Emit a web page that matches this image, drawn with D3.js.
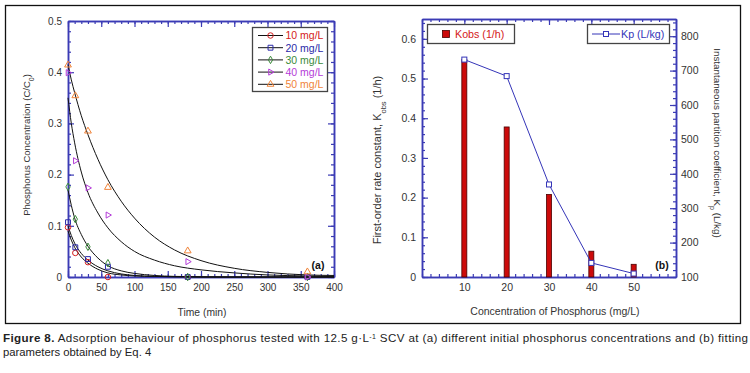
<!DOCTYPE html>
<html>
<head>
<meta charset="utf-8">
<script src="https://cdn.jsdelivr.net/npm/d3@7"></script>
<style>
	body { margin: 0; background: #fff; }
</style>
</head>
<body>
<div id="chart"></div>
<script>
// panel (a): measured points
const times = [0, 11, 30, 60, 180, 360];
const c10 = [0.097, 0.047, 0.029, 0.0, 0.0, 0.0];
const c20 = [0.107, 0.058, 0.035, 0.020, 0.0, 0.0];
const c30 = [0.176, 0.113, 0.059, 0.027, 0.0, 0.0];
const c40 = [0.399, 0.227, 0.174, 0.121, 0.030, 0.0];
const c50 = [0.414, 0.354, 0.285, 0.175, 0.051, 0.010];

// panel (a): fitted curves
const fitT = [0, 5, 10, 20, 30, 45, 60, 80, 100, 130, 160, 200, 250, 300, 360, 400];
const fit10 = [0.090, 0.072, 0.058, 0.039, 0.027, 0.015, 0.008, 0.004, 0.002, 0.001, 0.0005, 0, 0, 0, 0, 0];
const fit20 = [0.100, 0.081, 0.066, 0.046, 0.033, 0.020, 0.012, 0.006, 0.003, 0.0012, 0.0005, 0, 0, 0, 0, 0];
const fit30 = [0.170, 0.140, 0.115, 0.083, 0.060, 0.037, 0.022, 0.012, 0.007, 0.003, 0.0012, 0.0005, 0, 0, 0, 0];
const fit40 = [0.350, 0.300, 0.262, 0.205, 0.165, 0.125, 0.096, 0.069, 0.050, 0.033, 0.022, 0.014, 0.008, 0.004, 0.002, 0.001];
const fit50 = [0.415, 0.385, 0.360, 0.315, 0.278, 0.230, 0.190, 0.148, 0.115, 0.078, 0.053, 0.032, 0.017, 0.009, 0.004, 0.003];

const seriesNames = ["10 mg/L", "20 mg/L", "30 mg/L", "40 mg/L", "50 mg/L"];

// panel (b)
const conc = [10, 20, 30, 40, 50];
const kobs = [0.548, 0.378, 0.208, 0.065, 0.032];
const kp = [732, 684, 369, 141, 110];

const width = 750;
const height = 373;
const axisColor = "#3b3bb5";
const textColor = "#333";
const font = "'Liberation Sans', Arial, sans-serif";

const svg = d3.select("#chart").append("svg")
	.attr("width", width)
	.attr("height", height)
	.attr("viewBox", `0 0 ${width} ${height}`);

svg.append("rect")
	.attr("x", 5.5).attr("y", 5.5)
	.attr("width", 735).attr("height", 318)
	.attr("fill", "#fff").attr("stroke", "#111").attr("stroke-width", 1.3);

// scales
const xA = d3.scaleLinear().domain([0, 400]).range([68, 334]);
const yA = d3.scaleLinear().domain([0, 0.5]).range([277, 21]);
const xB = d3.scaleLinear().domain([0, 60]).range([422, 676]);
const yBL = d3.scaleLinear().domain([0, 0.65]).range([277, 19]);
const yBR = d3.scaleLinear().domain([100, 850]).range([277, 19]);

const fmt1 = (d) => (d === 0 ? "0" : d3.format(".1f")(d));

const styleAxis = (g, showLabels, size = "10px") => {
	g.select(".domain").attr("stroke", axisColor).attr("stroke-width", 1.5);
	g.selectAll(".tick line").attr("stroke", axisColor).attr("stroke-width", 1.2);
	g.selectAll(".tick text")
		.attr("fill", textColor)
		.style("font-size", size)
		.style("display", showLabels ? null : "none");
};

// draws the four sides with inward ticks
const drawFrame = (x, y, xMajor, xMinor, yMajor, yMinor, yFmt, right, size) => {
	const [x0, x1] = x.range();
	const [y0, y1] = y.range();

	const bottom = svg.append("g").attr("transform", `translate(0,${y0})`);
	bottom.call(d3.axisBottom(x).tickValues(xMinor).tickSize(-3).tickSizeOuter(0).tickFormat(""));
	styleAxis(bottom, false);
	const bottomMaj = svg.append("g").attr("transform", `translate(0,${y0})`);
	bottomMaj.call(d3.axisBottom(x).tickValues(xMajor).tickSize(-6).tickSizeOuter(0).tickPadding(7).tickFormat(d3.format("d")));
	styleAxis(bottomMaj, true, size);

	const top = svg.append("g").attr("transform", `translate(0,${y1})`);
	top.call(d3.axisTop(x).tickValues(xMinor).tickSize(-3).tickSizeOuter(0));
	styleAxis(top, false);
	const topMaj = svg.append("g").attr("transform", `translate(0,${y1})`);
	topMaj.call(d3.axisTop(x).tickValues(xMajor).tickSize(-6).tickSizeOuter(0));
	styleAxis(topMaj, false);

	const left = svg.append("g").attr("transform", `translate(${x0},0)`);
	left.call(d3.axisLeft(y).tickValues(yMinor).tickSize(-3).tickSizeOuter(0));
	styleAxis(left, false);
	const leftMaj = svg.append("g").attr("transform", `translate(${x0},0)`);
	leftMaj.call(d3.axisLeft(y).tickValues(yMajor).tickSize(-6).tickSizeOuter(0).tickPadding(6).tickFormat(yFmt));
	styleAxis(leftMaj, true, size);

	if (!right) {
		const r = svg.append("g").attr("transform", `translate(${x1},0)`);
		r.call(d3.axisRight(y).tickValues(yMinor).tickSize(-3).tickSizeOuter(0));
		styleAxis(r, false);
		const rMaj = svg.append("g").attr("transform", `translate(${x1},0)`);
		rMaj.call(d3.axisRight(y).tickValues(yMajor).tickSize(-6).tickSizeOuter(0));
		styleAxis(rMaj, false);
	}
};

// ---------- panel (a) ----------
drawFrame(
	xA, yA,
	d3.range(0, 401, 50), d3.range(0, 401, 10),
	d3.range(0, 0.51, 0.1).map((d) => +d.toFixed(2)), d3.range(0, 0.51, 0.02).map((d) => +d.toFixed(2)),
	fmt1, false, "10px"
);

const line = d3.line()
	.x((d) => xA(d[0]))
	.y((d) => yA(d[1]))
	.curve(d3.curveMonotoneX);

[fit10, fit20, fit30, fit40, fit50].forEach((fit) => {
	svg.append("path")
		.attr("d", line(fitT.map((t, i) => [t, fit[i]])))
		.attr("fill", "none")
		.attr("stroke", "#111")
		.attr("stroke-width", 1);
});

const seriesColors = ["#d42020", "#2a2aa8", "#3a8a3a", "#b43cd8", "#f0843a"];
const seriesSymbols = [
	{ type: d3.symbolCircle, size: 24, rot: 0 },
	{ type: d3.symbolSquare, size: 24, rot: 0 },
	{ type: d3.symbolDiamond, size: 16, rot: 0 },
	{ type: d3.symbolTriangle, size: 16, rot: 90 },
	{ type: d3.symbolTriangle, size: 20, rot: 0 },
];

const drawMarker = (g, i, x, y) => {
	const s = seriesSymbols[i];
	g.append("path")
		.attr("d", d3.symbol().type(s.type).size(s.size)())
		.attr("transform", `translate(${x},${y}) rotate(${s.rot})`)
		.attr("fill", "none")
		.attr("stroke", seriesColors[i])
		.attr("stroke-width", 1);
};

const marks = svg.append("g");
[c10, c20, c30, c40, c50].forEach((vals, i) => {
	vals.forEach((v, j) => drawMarker(marks, i, xA(times[j]), yA(v)));
});

// legend (a)
const legA = svg.append("g");
legA.append("rect")
	.attr("x", 252.5).attr("y", 27.5)
	.attr("width", 75).attr("height", 64)
	.attr("fill", "#fff").attr("stroke", "#444").attr("stroke-width", 1.3);
seriesNames.forEach((name, i) => {
	const y = 35.5 + i * 12.2;
	legA.append("line")
		.attr("x1", 258).attr("x2", 283).attr("y1", y).attr("y2", y)
		.attr("stroke", "#111").attr("stroke-width", 1);
	drawMarker(legA, i, 270.5, y);
	legA.append("text")
		.attr("x", 285.5).attr("y", y + 3.8)
		.attr("fill", seriesColors[i])
		.style("font-size", "10.5px")
		.text(name);
});

svg.append("text")
	.attr("x", 318).attr("y", 269)
	.attr("text-anchor", "middle")
	.style("font-size", "10.5px").style("font-weight", "bold")
	.attr("fill", "#111")
	.text("(a)");

svg.append("text")
	.attr("x", 202).attr("y", 316)
	.attr("text-anchor", "middle")
	.attr("fill", textColor)
	.style("font-size", "10.3px")
	.text("Time (min)");

const yLabA = svg.append("text")
	.attr("transform", "translate(30,145) rotate(-90)")
	.attr("text-anchor", "middle")
	.attr("fill", textColor)
	.style("font-size", "9.5px");
yLabA.append("tspan").text("Phosphorus Concentration (C/C");
yLabA.append("tspan").attr("baseline-shift", "sub").style("font-size", "7px").text("0");
yLabA.append("tspan").text(")");

// ---------- panel (b) ----------
drawFrame(
	xB, yBL,
	conc, d3.range(0, 61, 2),
	d3.range(0, 0.61, 0.1).map((d) => +d.toFixed(2)), d3.range(0, 0.65, 0.02).map((d) => +d.toFixed(2)),
	fmt1, true, "10.5px"
);

const rightB = svg.append("g").attr("transform", `translate(${xB.range()[1]},0)`);
rightB.call(d3.axisRight(yBR).tickValues(d3.range(100, 851, 20)).tickSize(-3).tickSizeOuter(0));
styleAxis(rightB, false);
const rightBMaj = svg.append("g").attr("transform", `translate(${xB.range()[1]},0)`);
rightBMaj.call(d3.axisRight(yBR).tickValues(d3.range(100, 801, 100)).tickSize(-6).tickSizeOuter(0).tickPadding(5).tickFormat(d3.format("d")));
styleAxis(rightBMaj, true, "10.5px");

const barW = 5;
svg.append("g")
	.selectAll("rect")
	.data(conc)
	.join("rect")
	.attr("x", (d) => xB(d) - barW / 2)
	.attr("y", (d, i) => yBL(kobs[i]))
	.attr("width", barW)
	.attr("height", (d, i) => yBL(0) - yBL(kobs[i]))
	.attr("fill", "#cc0a0a")
	.attr("stroke", "#4a0000")
	.attr("stroke-width", 0.8);

const kpLine = d3.line()
	.x((d, i) => xB(conc[i]))
	.y((d) => yBR(d));

svg.append("path")
	.attr("d", kpLine(kp))
	.attr("fill", "none")
	.attr("stroke", "#3535b8")
	.attr("stroke-width", 1);

svg.append("g")
	.selectAll("rect")
	.data(kp)
	.join("rect")
	.attr("x", (d, i) => xB(conc[i]) - 2.5)
	.attr("y", (d) => yBR(d) - 2.5)
	.attr("width", 5).attr("height", 5)
	.attr("fill", "#fff")
	.attr("stroke", "#3535b8")
	.attr("stroke-width", 1);

// legends (b)
svg.append("rect")
	.attr("x", 427.5).attr("y", 24.5)
	.attr("width", 87).attr("height", 19)
	.attr("fill", "#fff").attr("stroke", "#444").attr("stroke-width", 1.3);
svg.append("rect")
	.attr("x", 442.5).attr("y", 30.5)
	.attr("width", 7).attr("height", 7)
	.attr("fill", "#cc0a0a").attr("stroke", "#4a0000").attr("stroke-width", 0.8);
svg.append("text")
	.attr("x", 455).attr("y", 38)
	.attr("fill", "#d42020")
	.style("font-size", "10.7px")
	.text("Kobs (1/h)");

svg.append("rect")
	.attr("x", 587.5).attr("y", 24.5)
	.attr("width", 82).attr("height", 19)
	.attr("fill", "#fff").attr("stroke", "#444").attr("stroke-width", 1.3);
svg.append("line")
	.attr("x1", 592).attr("x2", 620).attr("y1", 34).attr("y2", 34)
	.attr("stroke", "#3535b8").attr("stroke-width", 1);
svg.append("rect")
	.attr("x", 603.5).attr("y", 31.5)
	.attr("width", 5).attr("height", 5)
	.attr("fill", "#fff").attr("stroke", "#3535b8").attr("stroke-width", 1);
svg.append("text")
	.attr("x", 621).attr("y", 38)
	.attr("fill", "#3535b8")
	.style("font-size", "10.7px")
	.text("Kp (L/kg)");

svg.append("text")
	.attr("x", 662).attr("y", 269)
	.attr("text-anchor", "middle")
	.style("font-size", "10.5px").style("font-weight", "bold")
	.attr("fill", "#111")
	.text("(b)");

svg.append("text")
	.attr("x", 555).attr("y", 315)
	.attr("text-anchor", "middle")
	.attr("fill", textColor)
	.style("font-size", "10.5px")
	.text("Concentration of Phosphorus (mg/L)");

const yLabBL = svg.append("text")
	.attr("transform", "translate(381,160) rotate(-90)")
	.attr("text-anchor", "middle")
	.attr("fill", textColor)
	.style("font-size", "11px");
yLabBL.append("tspan").text("First-order rate constant, K");
yLabBL.append("tspan").attr("baseline-shift", "sub").style("font-size", "7.5px").text("obs");
yLabBL.append("tspan").text("   (1/h)");

const yLabBR = svg.append("text")
	.attr("transform", "translate(714,143) rotate(90)")
	.attr("text-anchor", "middle")
	.attr("fill", textColor)
	.style("font-size", "9.8px");
yLabBR.append("tspan").text("Instantaneous partition coefficient, K");
yLabBR.append("tspan").attr("baseline-shift", "sub").style("font-size", "7px").text("p");
yLabBR.append("tspan").text("  (L/kg)");

// caption
const cap1 = svg.append("text")
	.attr("x", 3).attr("y", 342)
	.attr("textLength", 745)
	.attr("lengthAdjust", "spacing")
	.attr("fill", "#222")
	.style("font-size", "11.6px");
cap1.append("tspan").style("font-weight", "bold").text("Figure 8.");
cap1.append("tspan").text(" Adsorption behaviour of phosphorus tested with 12.5 g·L");
cap1.append("tspan").attr("baseline-shift", "super").style("font-size", "7px").text("-1");
cap1.append("tspan").text(" SCV at (a) different initial phosphorus concentrations and (b) fitting");

svg.append("text")
	.attr("x", 3).attr("y", 356)
	.attr("fill", "#222")
	.style("font-size", "11.3px")
	.text("parameters obtained by Eq. 4");

svg.selectAll("text").style("font-family", font);
svg.selectAll("g").attr("font-family", null);
</script>
</body>
</html>
